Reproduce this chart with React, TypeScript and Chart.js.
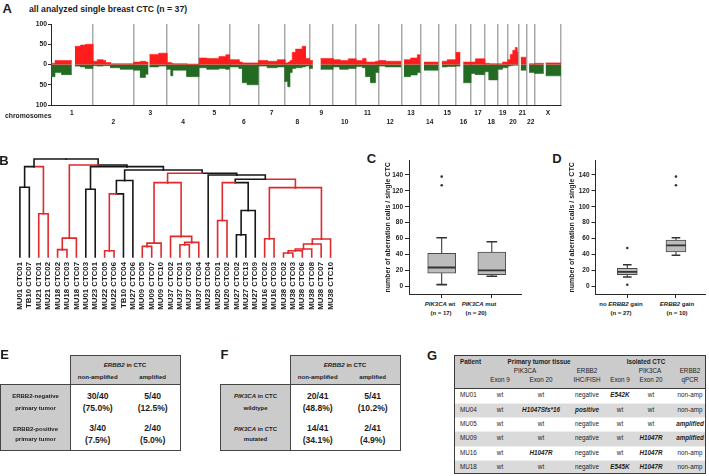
import React, { useEffect, useRef } from 'react';
import { Chart, registerables } from 'chart.js';

Chart.register(...registerables);

const FONT = '"Liberation Sans", Arial, Helvetica, sans-serif';
const INK = '#1c1c1c';
const AXIS = '#2a2a2a';
const GAIN_RED = '#ff1c1c';
const LOSS_GREEN = '#236b23';
const CLUSTER_RED = '#df2a2e';
const CLUSTER_BLACK = '#171717';
const BOX_FILL = '#bcbcbc';
const CELL_GRAY = '#cbcbcb';
const ROW_GRAY = '#dadada';

// ---------------- A: aberration frequency profile ----------------
const chromosomes = ['1', '2', '3', '4', '5', '6', '7', '8', '9', '10', '11', '12', '13', '14', '15', '16', '17', '18', '19', '20', '21', '22', 'X'];
const chromosomeSizesMb = [249, 243, 198, 191, 181, 171, 159, 146, 141, 136, 135, 134, 115, 107, 103, 90, 81, 78, 59, 63, 48, 51, 155];
// per chromosome: [segment start (Mb), % cells with gain, % cells with loss]; null = no data
const aberrationProfile: Array<Array<[number, number | null, number | null]>> = [
  [[0, 3, 30], [24, 10, 20], [64, 10, 25], [124, null, null], [142, 45, 4], [175, 48, 6], [205, 50, 10]],
  [[0, 8, 3], [26, 12, 4], [60, 10, 3], [75, 5, 3], [105, 2, 8], [164, 2, 12]],
  [[0, 6, 14], [40, 8, 32], [70, 6, 24], [88, null, null], [93, 25, 6], [148, 28, 4]],
  [[0, 5, 12], [24, 3, 28], [35, 2, 14], [118, 1, 30]],
  [[0, 16, 8], [47, 15, 12], [118, 20, 10], [159, 24, 12]],
  [[0, 12, 6], [57, 6, 10], [77, 4, 45], [106, 4, 50]],
  [[0, 10, 4], [54, 8, 8], [113, 12, 6]],
  [[0, 4, 42], [18, 6, 55], [30, 10, 20], [43, 30, 10], [63, 38, 8], [102, 45, 6], [122, 15, 4]],
  [[0, 10, 10], [20, null, null], [65, 15, 12]],
  [[0, 12, 6], [40, 10, 12], [90, 14, 10]],
  [[0, 10, 5], [39, 15, 8], [58, 6, 30], [87, 6, 45], [116, 8, 20]],
  [[0, 10, 4], [40, 8, 6]],
  [[0, null, null], [16, 12, 30], [55, 16, 26], [95, 24, 20]],
  [[0, null, null], [20, 6, 14]],
  [[0, null, null], [20, 8, 6], [51, 12, 5]],
  [[0, 30, 4], [27, null, null], [43, 6, 45]],
  [[0, 6, 22], [26, 14, 25]],
  [[0, 3, 18], [26, 2, 38]],
  [[0, 2, 12], [28, 6, 8]],
  [[0, 12, 4], [15, 25, 3], [30, 35, 2], [45, 42, 2], [55, 30, 2]],
  [[0, null, null], [14, 18, 14]],
  [[0, null, null], [16, 2, 20]],
  [[0, 3, 22], [53, null, null], [63, 4, 28]],
];
const profileYTicks = [-100, -50, 0, 50, 100];

// ---------------- B: hierarchical clustering ----------------
const leafLabels = [
  'MU01 CTC01', 'TB10 CTC07', 'MU21 CTC01', 'MU21 CTC02', 'MU18 CTC02', 'MU18 CTC03', 'MU18 CTC07',
  'MU01 CTC03', 'MU23 CTC01', 'MU22 CTC05', 'MU22 CTC06', 'TB10 CTC04', 'MU27 CTC06', 'MU09 CTC05',
  'MU09 CTC07', 'MU09 CTC10', 'MU37 CTC02', 'MU37 CTC01', 'MU37 CTC03', 'MU37 CTC04', 'MU23 CTC04',
  'MU20 CTC01', 'MU20 CTC02', 'MU27 CTC02', 'MU27 CTC13', 'MU27 CTC09', 'MU16 CTC02', 'MU16 CTC03',
  'MU38 CTC02', 'MU38 CTC03', 'MU38 CTC06', 'MU38 CTC08', 'MU38 CTC07', 'MU38 CTC10',
];
// [left node, right node, merge height]; leaves are 0..33, merges are numbered 34.. in order
const linkage: Array<[number, number, number]> = [
  [0, 1, 0.712], [2, 3, 0.441], [34, 35, 0.922], [4, 5, 0.075], [37, 6, 0.193], [7, 8, 0.692],
  [9, 10, 0.064], [40, 11, 0.644], [41, 12, 0.78], [13, 14, 0.108], [43, 15, 0.142], [17, 18, 0.125],
  [45, 19, 0.149], [16, 46, 0.21], [44, 47, 0.759], [21, 22, 0.373], [23, 24, 0.227], [50, 25, 0.475],
  [49, 51, 0.759], [26, 27, 0.186], [28, 29, 0.041], [54, 30, 0.064], [55, 31, 0.081], [56, 32, 0.132],
  [57, 33, 0.183], [53, 58, 0.708], [52, 59, 0.793], [20, 60, 0.837], [48, 61, 0.854], [42, 62, 0.888],
  [39, 63, 0.922], [38, 64, 0.939], [36, 65, 1.0],
];
const sameTumorNodes = [2, 3, 4, 5, 6, 9, 10, 13, 14, 15, 16, 17, 18, 19, 21, 22, 26, 27, 28, 29, 30, 31, 32, 33,
  35, 37, 38, 40, 43, 44, 45, 46, 47, 48, 49, 53, 54, 55, 56, 57, 58, 59];

// ---------------- C / D: box plots ----------------
const boxYTicks = [0, 20, 40, 60, 80, 100, 120, 140];
const pik3caLow = [2, 12.5];
const pik3caQ1 = [16.3, 14.5];
const pik3caMedian = [23.5, 20];
const pik3caQ3 = [41.3, 43];
const pik3caHigh = [61, 56];
const pik3caOutliers = [[127, 138], []];
const erbb2Low = [11.5, 39];
const erbb2Q1 = [14.5, 43];
const erbb2Median = [18, 51.5];
const erbb2Q3 = [22.5, 58];
const erbb2High = [27, 61];
const erbb2Outliers = [[1.7, 48], [127, 138]];

// ---------------- E / F / G tables ----------------
const erbb2PrimaryRows = [['ERBB2-negative', 'primary tumor'], ['ERBB2-positive', 'primary tumor']];
const erbb2PrimaryCounts = [['30/40', '5/40'], ['3/40', '2/40']];
const erbb2PrimaryPct = [['(75.0%)', '(12.5%)'], ['(7.5%)', '(5.0%)']];
const pik3caCtcRows = ['wildtype', 'mutated'];
const pik3caCtcCounts = [['20/41', '5/41'], ['14/41', '2/41']];
const pik3caCtcPct = [['(48.8%)', '(10.2%)'], ['(34.1%)', '(4.9%)']];

const patients = ['MU01', 'MU04', 'MU05', 'MU09', 'MU16', 'MU18'];
const tumorExon9 = ['wt', 'wt', 'wt', 'wt', 'wt', 'wt'];
const tumorExon20 = ['wt', 'H1047Sfs*16', 'wt', 'wt', 'H1047R', 'wt'];
const tumorErbb2 = ['negative', 'positive', 'negative', 'negative', 'negative', 'negative'];
const ctcExon9 = ['E542K', 'wt', 'wt', 'wt', 'wt', 'E545K'];
const ctcExon20 = ['wt', 'wt', 'wt', 'H1047R', 'H1047R', 'H1047R'];
const ctcErbb2 = ['non-amp', 'non-amp', 'amplified', 'amplified', 'non-amp', 'non-amp'];

// ================= chart configs =================
function profileConfig(): any {
  const gain: any[] = [];
  const loss: any[] = [];
  const ticks: any[] = [];
  let offset = 0;
  chromosomeSizesMb.forEach((size, ci) => {
    const segs = aberrationProfile[ci];
    segs.forEach((seg, si) => {
      const x0 = offset + seg[0];
      const x1 = offset + (si + 1 < segs.length ? segs[si + 1][0] : size);
      const g = seg[1];
      const l = seg[2] == null ? null : -(seg[2] as number);
      gain.push({ x: x0, y: g }, { x: x1, y: g });
      loss.push({ x: x0, y: l }, { x: x1, y: l });
    });
    ticks.push({ value: offset + size / 2, line: false, label: ci % 2 === 0 ? [chromosomes[ci], ''] : ['', chromosomes[ci]] });
    offset += size;
    ticks.push({ value: offset, line: true, label: '' });
  });
  const total = offset;
  const tickFont = { family: FONT, size: 6.6, weight: 'bold' as const, lineHeight: 1.3 };
  return {
    type: 'line',
    data: {
      datasets: [
        { data: gain, borderColor: GAIN_RED, backgroundColor: GAIN_RED, borderWidth: 0.6, fill: 'origin', pointRadius: 0, spanGaps: false },
        { data: loss, borderColor: LOSS_GREEN, backgroundColor: LOSS_GREEN, borderWidth: 0.6, fill: 'origin', pointRadius: 0, spanGaps: false },
      ],
    },
    options: {
      animation: false, responsive: false, events: [],
      plugins: { legend: { display: false }, tooltip: { enabled: false } },
      layout: { padding: { top: 6, right: 9, left: 0, bottom: 0 } },
      scales: {
        x: {
          type: 'linear', min: 0, max: total,
          afterBuildTicks: (s: any) => { s.ticks = ticks.map((t) => ({ value: t.value, line: t.line })); },
          afterFit: (s: any) => { s.height = 23; },
          grid: {
            drawTicks: false,
            color: (c: any) => (c.tick && c.tick.line ? '#a9a9a9' : 'rgba(0,0,0,0)'),
            lineWidth: 1.5,
          },
          border: { color: AXIS, width: 1 },
          ticks: {
            autoSkip: false, maxRotation: 0, minRotation: 0, padding: 4, color: INK, font: tickFont,
            callback: (_v: any, i: number) => ticks[i].label,
          },
        },
        y: {
          min: -100, max: 100,
          afterBuildTicks: (s: any) => { s.ticks = profileYTicks.map((v) => ({ value: v })); },
          afterFit: (s: any) => { s.width = 51; },
          grid: { drawOnChartArea: false, tickLength: 3, color: AXIS },
          border: { color: AXIS, width: 1 },
          ticks: { padding: 1, color: INK, font: { family: FONT, size: 6.8, weight: 'bold' }, callback: (v: any) => String(Math.abs(v)) },
        },
      },
    },
  };
}

function dendrogramConfig(): any {
  const n = leafLabels.length;
  const nodeX: number[] = leafLabels.map((_, i) => i);
  const nodeH: number[] = leafLabels.map(() => 0);
  linkage.forEach(([a, b, h]) => { nodeX.push((nodeX[a] + nodeX[b]) / 2); nodeH.push(h); });
  const red = new Set(sameTumorNodes);
  const datasets: any[] = [];
  linkage.forEach(([a, b, h], k) => {
    const p = n + k;
    [a, b].forEach((c) => {
      datasets.push({
        data: [{ x: nodeX[c], y: nodeH[c] }, { x: nodeX[c], y: h }, { x: nodeX[p], y: h }],
        borderColor: red.has(c) ? CLUSTER_RED : CLUSTER_BLACK,
        borderWidth: 1.6, pointRadius: 0, fill: false, clip: false,
        borderJoinStyle: 'miter', borderCapStyle: 'square',
      });
    });
  });
  return {
    type: 'line',
    data: { datasets },
    options: {
      animation: false, responsive: false, events: [],
      plugins: { legend: { display: false }, tooltip: { enabled: false } },
      layout: { padding: { top: 9, left: 15.2, right: 5.9, bottom: 0 } },
      scales: {
        x: {
          type: 'linear', min: -0.5, max: n - 0.5,
          afterBuildTicks: (s: any) => { s.ticks = leafLabels.map((_, i) => ({ value: i })); },
          afterFit: (s: any) => { s.height = 63; },
          grid: { display: false, drawTicks: false },
          border: { display: false },
          ticks: {
            autoSkip: false, minRotation: 90, maxRotation: 90, padding: 5, color: INK,
            font: { family: FONT, size: 7.8, weight: 'bold' },
            callback: (_v: any, i: number) => leafLabels[i],
          },
        },
        y: { display: false, min: 0, max: 1 },
      },
    },
  };
}

function boxConfig(s: any, o: any): any {
  const xs = [1, 2];
  const datasets: any[] = [];
  xs.forEach((x, i) => {
    datasets.push({ type: 'line', data: [{ x, y: s.low[i] }, { x, y: s.high[i] }], borderColor: AXIS, borderWidth: 1, pointRadius: 0, fill: false, order: 4 });
  });
  datasets.push({
    type: 'bar', data: xs.map((x, i) => ({ x, y: [s.q1[i], s.q3[i]] })),
    backgroundColor: BOX_FILL, borderColor: '#4a4a4a', borderWidth: 1, borderSkipped: false,
    barThickness: o.boxPx, grouped: false, order: 3,
  });
  datasets.push({
    type: 'bar', data: xs.map((x, i) => ({ x, y: [s.median[i] - 0.7, s.median[i] + 0.7] })),
    backgroundColor: '#333', borderWidth: 0, barThickness: o.boxPx - 1, grouped: false, order: 2,
  });
  datasets.push({
    type: 'bar', data: xs.map((x, i) => ({ x, y: [s.low[i] - 0.6, s.low[i] + 0.6] })),
    backgroundColor: '#333', borderWidth: 0, barThickness: o.capPx, grouped: false, order: 2,
  });
  datasets.push({
    type: 'bar', data: xs.map((x, i) => ({ x, y: [s.high[i] - 0.6, s.high[i] + 0.6] })),
    backgroundColor: '#333', borderWidth: 0, barThickness: o.capPx, grouped: false, order: 2,
  });
  const pts: any[] = [];
  s.outliers.forEach((arr: number[], i: number) => arr.forEach((v) => pts.push({ x: xs[i], y: v })));
  datasets.push({ type: 'line', showLine: false, data: pts, pointRadius: 1.3, pointBackgroundColor: '#333', pointBorderWidth: 0, order: 1 });
  return {
    type: 'bar',
    data: { datasets },
    options: {
      animation: false, responsive: false, events: [],
      plugins: { legend: { display: false }, tooltip: { enabled: false } },
      layout: { padding: { top: o.padTop, right: o.padRight, left: 0, bottom: 0 } },
      scales: {
        x: {
          type: 'linear', min: 0.347, max: 2.597, offset: false,
          afterBuildTicks: (sc: any) => { sc.ticks = xs.map((v) => ({ value: v })); },
          afterFit: (sc: any) => { sc.height = o.xHeight; },
          grid: { offset: false, drawOnChartArea: false, drawTicks: true, tickLength: 4, color: AXIS },
          border: { color: AXIS, width: 1 },
          ticks: { display: false },
        },
        y: {
          min: -10, max: 158,
          afterBuildTicks: (sc: any) => { sc.ticks = boxYTicks.map((v) => ({ value: v })); },
          afterFit: (sc: any) => { sc.width = o.yWidth; },
          grid: { drawOnChartArea: false, tickLength: 4, color: AXIS },
          border: { color: AXIS, width: 1 },
          ticks: { padding: 2, color: INK, font: { family: FONT, size: 6.5, weight: 'bold' } },
          title: {
            display: true, text: 'number of aberration calls / single CTC', color: INK,
            font: { family: FONT, size: 7, weight: 'bold' }, padding: { top: o.titlePad, bottom: 0 },
          },
        },
      },
    },
  };
}

// ================= HTML helpers =================
const T = (p: any) => {
  const tx = p.align === 'left' ? '0' : p.align === 'right' ? '-100%' : '-50%';
  return (
    <div style={{
      position: 'absolute', left: p.x, top: p.y, transform: `translate(${tx}, -50%)`,
      fontFamily: FONT, fontSize: p.size || 6, fontWeight: p.bold ? 'bold' : 'normal',
      fontStyle: p.italic ? 'italic' : 'normal', whiteSpace: 'nowrap', lineHeight: 1, color: p.color || INK,
    }}>{p.children}</div>
  );
};

const Box = (p: any) => (
  <div style={{
    position: 'absolute', left: p.x, top: p.y, width: p.w, height: p.h, background: p.bg,
    border: p.border === false ? 'none' : '1.3px solid #454545', boxSizing: 'border-box',
  }} />
);

const Letter = (p: any) => <T x={p.x} y={p.y} size={13} bold>{p.children}</T>;

function ContingencyTable(p: any) {
  const L = p.left;
  return (
    <>
      <Box x={L + 70} y={355} w={110.7} h={29.5} bg={CELL_GRAY} />
      <Box x={L} y={383.5} w={71} h={67.5} bg={CELL_GRAY} />
      <Box x={L + 70} y={383.5} w={110.7} h={67.5} bg="#fff" />
      <T x={L + 125} y={364.5} size={6.2} bold><i>ERBB2</i> in CTC</T>
      <T x={L + 97.7} y={376.5} size={6.1} bold>non-amplified</T>
      <T x={L + 152.7} y={376.5} size={6.1} bold>amplified</T>
      {p.rowLabels.map((rl: any, r: number) => (
        <React.Fragment key={r}>
          <T x={L + 35.5} y={r === 0 ? 396 : 428.5} size={6} bold>{rl[0]}</T>
          <T x={L + 35.5} y={r === 0 ? 407.5 : 438.5} size={6} bold>{rl[1]}</T>
          {[0, 1].map((c) => (
            <React.Fragment key={c}>
              <T x={L + (c === 0 ? 97.7 : 152.7)} y={r === 0 ? 395.5 : 428} size={8.6} bold>{p.counts[r][c]}</T>
              <T x={L + (c === 0 ? 97.7 : 152.7)} y={r === 0 ? 407.5 : 440} size={8.6} bold>{p.pct[r][c]}</T>
            </React.Fragment>
          ))}
        </React.Fragment>
      ))}
    </>
  );
}

function MutationTable() {
  const left = 453.5, top = 355, width = 252.2, headH = 33.3, rowH = 14.33;
  const cols = [500, 541, 587, 620, 651, 690];
  const special = (v: string) => !(v === 'wt' || v === 'negative' || v === 'non-amp');
  const rows = patients.map((p, i) => [tumorExon9[i], tumorExon20[i], tumorErbb2[i], ctcExon9[i], ctcExon20[i], ctcErbb2[i]]);
  return (
    <>
      <div style={{ position: 'absolute', left, top, width, height: headH, background: CELL_GRAY }} />
      {patients.map((_, i) => (
        <div key={i} style={{ position: 'absolute', left, top: top + headH + i * rowH, width, height: rowH, background: i % 2 === 1 ? ROW_GRAY : '#fff', borderTop: i > 0 ? '0.6px solid #efefef' : 'none', boxSizing: 'border-box' }} />
      ))}
      <div style={{ position: 'absolute', left, top: top + headH - 0.6, width, height: 1.2, background: '#3c3c3c' }} />
      <div style={{ position: 'absolute', left, top, width, height: headH + rowH * 6, border: '1.4px solid #3a3a3a', boxSizing: 'border-box' }} />
      <T x={460} y={361.7} size={6.3} bold align="left">Patient</T>
      <T x={539} y={361.7} size={6.3} bold>Primary tumor tissue</T>
      <T x={646} y={361.7} size={6.3} bold>Isolated CTC</T>
      <T x={525} y={370.8} size={6.3}>PIK3CA</T>
      <T x={587} y={370.8} size={6.3}>ERBB2</T>
      <T x={650} y={370.8} size={6.3}>PIK3CA</T>
      <T x={690} y={370.8} size={6.3}>ERBB2</T>
      {['Exon 9', 'Exon 20', 'IHC/FISH', 'Exon 9', 'Exon 20', 'qPCR'].map((h, j) => (
        <T key={j} x={cols[j]} y={380} size={6.3}>{h}</T>
      ))}
      {rows.map((r, i) => {
        const cy = top + headH + rowH * (i + 0.5);
        return (
          <React.Fragment key={i}>
            <T x={460} y={cy} size={6.3} align="left">{patients[i]}</T>
            {r.map((v, j) => (
              <T key={j} x={cols[j]} y={cy} size={6.3} bold={special(v)} italic={special(v)}>{v}</T>
            ))}
          </React.Fragment>
        );
      })}
    </>
  );
}

export default function App() {
  const aRef = useRef<HTMLCanvasElement>(null);
  const bRef = useRef<HTMLCanvasElement>(null);
  const cRef = useRef<HTMLCanvasElement>(null);
  const dRef = useRef<HTMLCanvasElement>(null);

  useEffect(() => {
    const charts = [
      new Chart(aRef.current as HTMLCanvasElement, profileConfig()),
      new Chart(bRef.current as HTMLCanvasElement, dendrogramConfig()),
      new Chart(cRef.current as HTMLCanvasElement, boxConfig(
        { low: pik3caLow, q1: pik3caQ1, median: pik3caMedian, q3: pik3caQ3, high: pik3caHigh, outliers: pik3caOutliers },
        { yWidth: 31, padTop: 10.7, padRight: 6.3, xHeight: 5, titlePad: 5.8, boxPx: 28, capPx: 10 },
      )),
      new Chart(dRef.current as HTMLCanvasElement, boxConfig(
        { low: erbb2Low, q1: erbb2Q1, median: erbb2Median, q3: erbb2Q3, high: erbb2High, outliers: erbb2Outliers },
        { yWidth: 32.5, padTop: 10.7, padRight: 4, xHeight: 5, titlePad: 5.3, boxPx: 20, capPx: 8 },
      )),
    ];
    return () => charts.forEach((c) => c.destroy());
  }, []);

  const cv = (l: number, t: number, w: number, h: number) => ({ position: 'absolute' as const, left: l, top: t, width: w, height: h });

  return (
    <div style={{ position: 'absolute', left: 0, top: 0, width: 709, height: 476, background: '#fff', overflow: 'hidden', fontFamily: FONT, color: INK }}>
      <canvas ref={aRef} width={570} height={110} style={cv(0, 18, 570, 110)} />
      <canvas ref={bRef} width={345} height={170} style={cv(0, 150, 345, 170)} />
      <canvas ref={cRef} width={150} height={150} style={cv(378, 150, 150, 150)} />
      <canvas ref={dRef} width={146} height={150} style={cv(563, 150, 146, 150)} />

      <Letter x={7.2} y={8.2}>A</Letter>
      <T x={29} y={8.6} size={8.7} bold align="left">all analyzed single breast CTC (n = 37)</T>
      <T x={5} y={116} size={6.8} bold align="left">chromosomes</T>

      <Letter x={4} y={159.5}>B</Letter>
      <Letter x={371.5} y={158}>C</Letter>
      <Letter x={557} y={158}>D</Letter>

      <T x={440} y={304} size={6} bold><i>PIK3CA</i> wt</T>
      <T x={441} y={312.6} size={6} bold>(n = 17)</T>
      <T x={479} y={304} size={6} bold><i>PIK3CA</i> mut</T>
      <T x={476} y={312.6} size={6} bold>(n = 20)</T>
      <T x={621} y={304} size={6} bold>no <i>ERBB2</i> gain</T>
      <T x={621} y={312.6} size={6} bold>(n = 27)</T>
      <T x={677} y={304} size={6} bold><i>ERBB2</i> gain</T>
      <T x={677} y={312.6} size={6} bold>(n = 10)</T>

      <Letter x={4.5} y={353.5}>E</Letter>
      <ContingencyTable left={0} rowLabels={erbb2PrimaryRows} counts={erbb2PrimaryCounts} pct={erbb2PrimaryPct} />

      <Letter x={224.5} y={353.5}>F</Letter>
      <ContingencyTable left={220} rowLabels={pik3caCtcRows.map((r) => [<span key={r}><i>PIK3CA</i> in CTC</span>, r])} counts={pik3caCtcCounts} pct={pik3caCtcPct} />

      <Letter x={432} y={354.5}>G</Letter>
      <MutationTable />
    </div>
  );
}
